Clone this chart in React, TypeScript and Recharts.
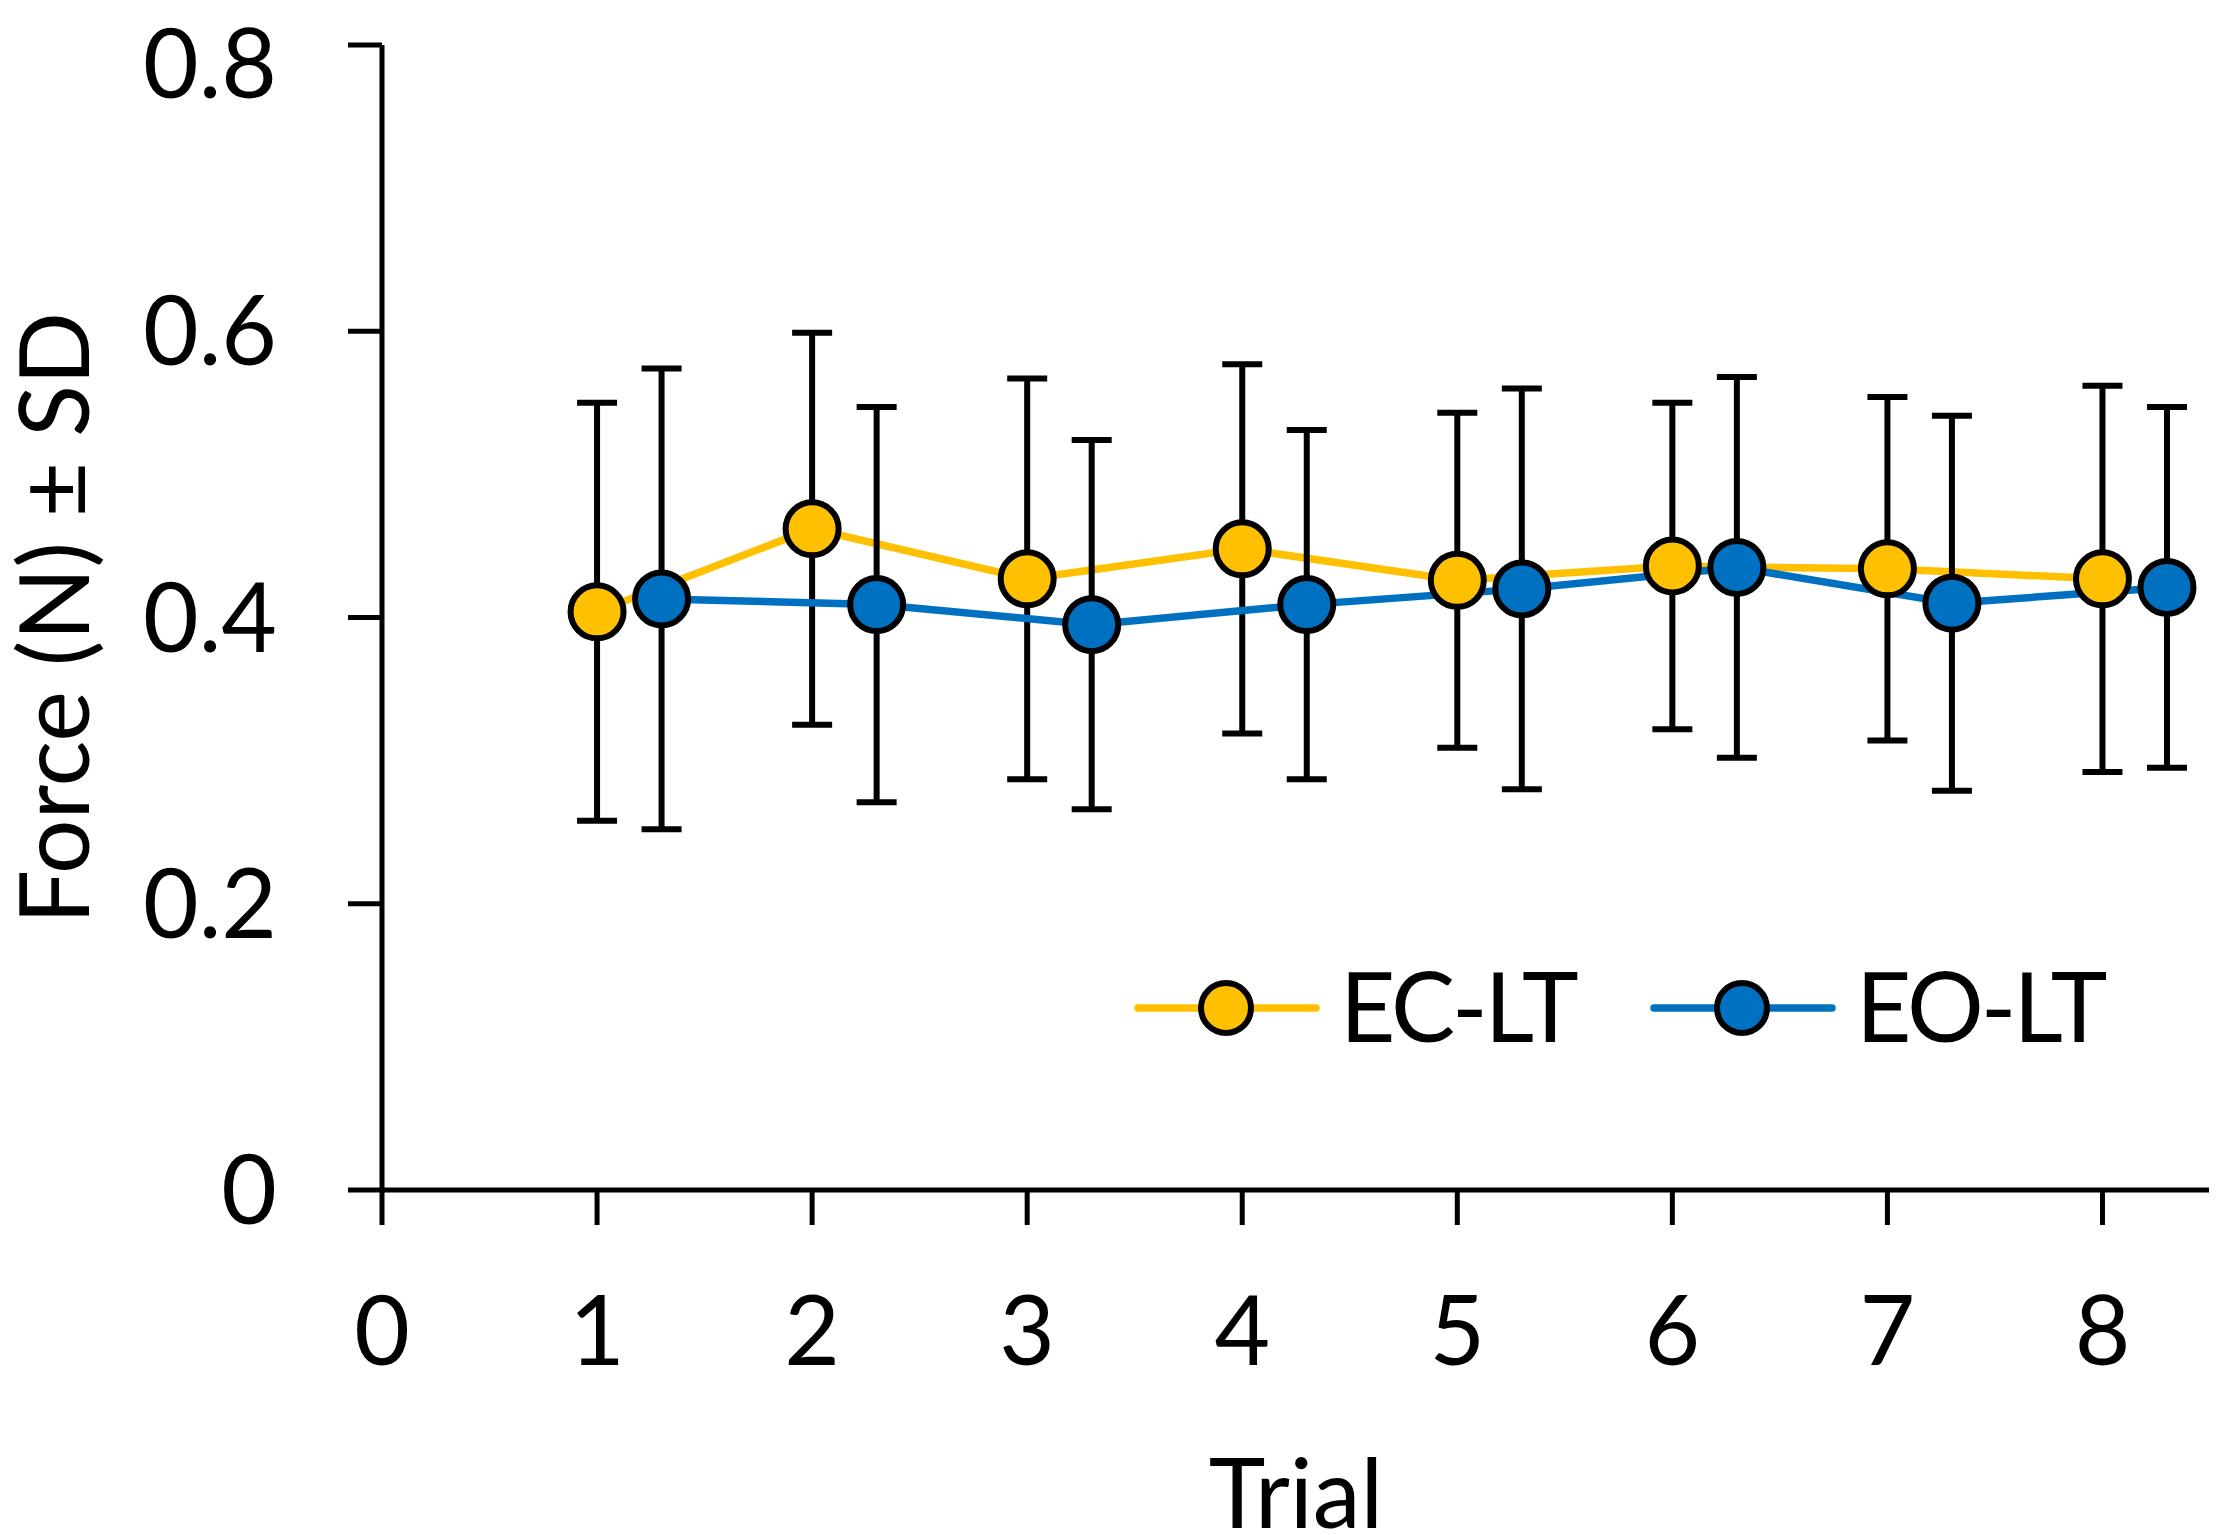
import { ComposedChart, Line, XAxis, YAxis, ErrorBar, Legend, Label } from 'recharts';

const trials = [1, 2, 3, 4, 5, 6, 7, 8];
const ecMean = [0.404, 0.462, 0.427, 0.448, 0.426, 0.436, 0.434, 0.427];
const ecSd = [0.146, 0.137, 0.14, 0.129, 0.117, 0.114, 0.12, 0.135];
const eoMean = [0.413, 0.409, 0.395, 0.409, 0.42, 0.435, 0.41, 0.421];
const eoSd = [0.161, 0.138, 0.129, 0.122, 0.14, 0.133, 0.131, 0.126];
const eoShift = 0.3; // EO points sit a bit right of each trial
const xTicks = [0, 1, 2, 3, 4, 5, 6, 7, 8];
const yTicks = [0, 0.2, 0.4, 0.6, 0.8];

const YELLOW = '#FFC000';
const BLUE = '#0070C0';
const FONT = 'Lato, "Open Sans", sans-serif';

const ecData = trials.map((t, i) => ({ x: t, y: ecMean[i], sd: ecSd[i] }));
const eoData = trials.map((t, i) => ({ x: t + eoShift, y: eoMean[i], sd: eoSd[i] }));

const dot = (fill: string) => (p: any) => (
  <circle key={`d-${p.index}`} cx={p.cx} cy={p.cy} r={26.5} fill={fill} stroke="#000" strokeWidth={6} />
);

function LegendBox() {
  const item = (x: number, color: string, text: string) => (
    <g>
      <line x1={x} y1={60} x2={x + 178} y2={60} stroke={color} strokeWidth={7.5} strokeLinecap="round" />
      <circle cx={x + 88} cy={60} r={25} fill={color} stroke="#000" strokeWidth={6} />
      <text x={x + 202} y={94} fontSize={96} fontFamily={FONT} fill="#000" letterSpacing={-3}>
        {text}
      </text>
    </g>
  );
  return (
    <svg width={1000} height={120}>
      {item(10, YELLOW, 'EC-LT')}
      {item(526, BLUE, 'EO-LT')}
    </svg>
  );
}

function YTitle() {
  return (
    <text x={81} y={610} transform="rotate(-90 81 610)" textAnchor="middle" fontSize={96} fontFamily={FONT} fill="#000">
      Force (N) ± SD
    </text>
  );
}

export default function App() {
  const tickStyle = { fontSize: 96, fontFamily: FONT, fill: '#000' };
  return (
    <div style={{ width: 2209, height: 1527, background: '#fff' }}>
      <ComposedChart width={2209} height={1527} margin={{ top: 37, right: 7, bottom: 5, left: 0 }}>
        <XAxis
          type="number"
          dataKey="x"
          domain={[0, 8.5]}
          ticks={xTicks}
          allowDataOverflow
          height={340}
          stroke="#000"
          strokeWidth={5}
          tickSize={35}
          tickMargin={72}
          tick={tickStyle}
          tickLine={{ stroke: '#000', strokeWidth: 5 }}
        >
          <Label value="Trial" position="insideBottom" offset={2} style={{ fontSize: 96, fontFamily: FONT, fill: '#000' }} />
        </XAxis>
        <YAxis
          type="number"
          domain={[0, 0.8]}
          ticks={yTicks}
          width={374}
          stroke="#000"
          strokeWidth={5}
          tickSize={34}
          tickMargin={71}
          tick={tickStyle}
          tickLine={{ stroke: '#000', strokeWidth: 5 }}
          tickFormatter={(v: number) => (v === 0 ? '0' : String(v))}
        >
          <Label content={() => <YTitle />} />
        </YAxis>
        <Legend
          layout="horizontal"
          verticalAlign="middle"
          align="center"
          content={() => <LegendBox />}
          wrapperStyle={{ position: 'absolute', left: 1120, top: 940, width: 1000, height: 120 }}
        />
        <Line
          data={ecData}
          dataKey="y"
          name="EC-LT"
          stroke={YELLOW}
          strokeWidth={7.5}
          dot={dot(YELLOW)}
          isAnimationActive={false}
        >
          <ErrorBar dataKey="sd" direction="y" width={20} stroke="#000" strokeWidth={6} />
        </Line>
        <Line
          data={eoData}
          dataKey="y"
          name="EO-LT"
          stroke={BLUE}
          strokeWidth={7.5}
          dot={dot(BLUE)}
          isAnimationActive={false}
        >
          <ErrorBar dataKey="sd" direction="y" width={20} stroke="#000" strokeWidth={6} />
        </Line>
      </ComposedChart>
    </div>
  );
}
